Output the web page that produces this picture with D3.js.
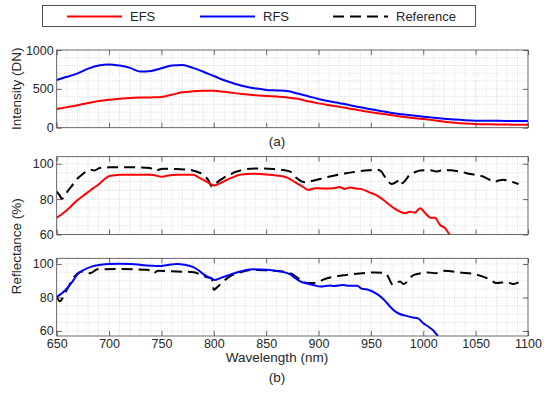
<!DOCTYPE html>
<html>
<head>
<meta charset="utf-8">
<script src="https://cdn.jsdelivr.net/npm/d3@7"></script>
<style>
  body { margin: 0; background: #fff; }
  text { font-family: "Liberation Sans", Arial, sans-serif; fill: #262626; }
</style>
</head>
<body>
<div id="chart"></div>
<script>
// ---- data ----
const xTicks = [650, 700, 750, 800, 850, 900, 950, 1000, 1050, 1100];

// (a) intensity, sampled every 10 nm
const waveA = [650, 660, 670, 680, 690, 700, 710, 720, 730, 740, 750, 760, 770, 780, 790, 800,
  810, 820, 830, 840, 850, 860, 870, 880, 890, 900, 910, 920, 930, 940, 950, 960, 970, 980,
  990, 1000, 1010, 1020, 1030, 1040, 1050, 1060, 1070, 1080, 1090, 1100];
const efsIntensity = [241, 265, 290, 318, 343, 360, 372, 383, 388, 390, 395, 425, 455, 468, 474, 476,
  462, 445, 430, 418, 408, 400, 390, 372, 340, 313, 290, 268, 245, 222, 200, 180, 160, 142,
  126, 112, 95, 78, 65, 55, 48, 44, 41, 40, 39, 39];
const rfsIntensity = [614, 655, 700, 760, 800, 815, 800, 770, 722, 730, 765, 800, 806, 770, 720, 665,
  610, 565, 530, 505, 486, 480, 472, 440, 405, 370, 340, 315, 290, 262, 238, 213, 190, 172,
  156, 142, 128, 115, 104, 96, 91, 89, 88, 87, 86, 86];

// (b) upper: EFS reflectance and reference, [wavelength, %]
const efsReflectance = [[650, 69.5], [656, 72], [662, 75], [668, 78.5], [675, 81.8], [680, 84], [685, 86.2],
  [690, 88.3], [695, 91], [700, 93], [705, 93.5], [710, 93.8], [720, 93.8], [730, 93.8], [740, 93.8],
  [745, 93.3], [750, 92.6], [755, 93.2], [765, 93.8], [780, 93.8], [785, 92.5], [790, 90.9], [795, 89.2],
  [800, 87.7], [805, 88.8], [810, 90.2], [818, 92.3], [825, 93.8], [838, 94.3], [850, 94], [860, 93.4],
  [870, 92.2], [879, 89], [885, 87], [890, 85.2], [897, 86.2], [905, 86], [914, 86.2], [920, 86.8],
  [925, 85.8], [930, 86.6], [935, 86], [940, 85.8], [948, 84], [956, 82], [962, 79.5], [968, 76.7],
  [973, 74.5], [978, 72.9], [983, 72], [987, 72.9], [992, 72.4], [997, 74.9], [1002, 72], [1007, 69.5],
  [1011, 69.5], [1016, 65.4], [1021, 63.5], [1025, 60]];
const refReflectanceE = [[650, 84.3], [653, 82], [655, 80.1], [658, 82.4], [661, 85], [664, 87.1], [668, 90.5],
  [674, 93.8], [678, 95.5], [682, 96.6], [686, 96.2], [691, 97.6], [700, 98], [710, 98.1], [725, 98],
  [739, 97.6], [744, 96], [748, 96.8], [752, 97.2], [765, 97], [777, 96.6], [784, 95.5], [790, 93.8],
  [795, 90.5], [798, 87.1], [801, 88.5], [805, 90.3], [809, 91.9], [815, 93.8], [822, 95.6], [835, 97.2],
  [845, 97.3], [857, 97], [866, 96.5], [873, 95.6], [879, 91.9], [884, 90], [887, 89.6], [893, 90.2],
  [898, 90.9], [905, 92], [911, 92.8], [925, 94.5], [937, 95.6], [948, 96.3], [956, 96.6], [960, 95.6],
  [962, 93.8], [966, 90.5], [970, 88.5], [975, 90], [978, 91.3], [980, 89], [984, 91.5], [987, 93.8],
  [992, 95.2], [997, 96.2], [1007, 96.4], [1013, 95.6], [1019, 96.6], [1027, 96.3], [1035, 95.6],
  [1045, 94.2], [1057, 92.8], [1063, 91], [1067, 89.6], [1072, 90.5], [1077, 90.9], [1082, 90],
  [1086, 89.6], [1091, 88.5]];

// (b) lower: RFS reflectance and reference
const rfsReflectance = [[650, 80.3], [655, 82.5], [660, 85.5], [665, 89.5], [670, 94], [676, 96.5], [684, 98.6],
  [692, 99.6], [700, 100], [710, 100.1], [721, 100], [731, 99.4], [740, 99], [747, 98.8], [756, 99.4],
  [765, 100], [772, 99.6], [781, 98], [786, 96], [791, 93.5], [796, 91.8], [801, 90.5], [808, 92],
  [815, 93.5], [825, 95.5], [837, 96.8], [850, 96.5], [860, 95.8], [866, 95.3], [873, 93.8], [878, 91.5],
  [883, 89.5], [890, 88.2], [895, 87.4], [902, 86.5], [911, 87.2], [915, 86.8], [923, 87.4], [930, 87],
  [937, 87], [941, 85.3], [948, 84.5], [956, 82], [962, 79], [968, 74.8], [972, 72.2], [977, 70.3],
  [982, 69.3], [990, 68], [995, 67.5], [1000, 64.6], [1005, 62.5], [1010, 60], [1014, 57]];
const refReflectanceR = [[650, 80.7], [653, 77.7], [658, 82.7], [667, 92.5], [675, 95.5], [682, 94.5],
  [689, 96.8], [710, 97], [737, 96.5], [742, 94.5], [747, 95.9], [765, 95.5], [781, 95.1], [791, 92.5],
  [798, 91.5], [800, 84.6], [804, 86.6], [815, 92.5], [828, 95.5], [838, 96.5], [850, 96.2], [866, 95.5],
  [876, 93.5], [884, 90], [890, 88.6], [896, 88.6], [906, 91], [927, 93.5], [954, 94.9], [964, 94.5],
  [966, 92.9], [971, 87.6], [978, 89.6], [981, 88], [991, 93.5], [1005, 94.9], [1012, 94.5],
  [1019, 95.9], [1035, 94.9], [1049, 93.9], [1063, 90.9], [1070, 88.6], [1080, 89.2], [1086, 88],
  [1091, 89]];

const legendNames = ["EFS", "RFS", "Reference"];

// ---- drawing ----
const width = 550, height = 394;
const svg = d3.select("#chart").append("svg")
  .attr("width", width)
  .attr("height", height);

const x = d3.scaleLinear().domain([650, 1100]).range([56.7, 528]);

const panels = [
  { top: 50, bottom: 127.7, domain: [0, 1000], ticks: [0, 500, 1000], minor: 100,
    series: [
      { data: waveA.map((w, i) => [w, efsIntensity[i]]), color: "#ff0000" },
      { data: waveA.map((w, i) => [w, rfsIntensity[i]]), color: "#0000ff" }
    ] },
  { top: 156.7, bottom: 234.5, domain: [60, 104], ticks: [60, 80, 100], minor: 5,
    series: [
      { data: refReflectanceE, color: "#000", dash: true },
      { data: efsReflectance, color: "#ff0000" }
    ] },
  { top: 258.3, bottom: 336, domain: [57, 103.4], ticks: [60, 80, 100], minor: 5, showX: true,
    series: [
      { data: refReflectanceR, color: "#000", dash: true },
      { data: rfsReflectance, color: "#0000ff" }
    ] }
];

panels.forEach((p, k) => {
  const y = d3.scaleLinear().domain(p.domain).range([p.bottom, p.top]);
  const g = svg.append("g");

  // dotted grid
  const grid = g.append("g")
    .attr("stroke", "#bdbdbd")
    .attr("stroke-width", 0.6)
    .attr("stroke-dasharray", "1,1.5");
  grid.selectAll(".gx")
    .data(d3.range(660, 1100, 10))
    .enter().append("line")
    .attr("x1", d => x(d)).attr("x2", d => x(d))
    .attr("y1", p.top).attr("y2", p.bottom);
  const yStart = Math.ceil(p.domain[0] / p.minor) * p.minor;
  grid.selectAll(".gy")
    .data(d3.range(yStart, p.domain[1], p.minor).filter(v => v > p.domain[0]))
    .enter().append("line")
    .attr("x1", x.range()[0]).attr("x2", x.range()[1])
    .attr("y1", d => y(d)).attr("y2", d => y(d));

  // series
  const clipId = "clip" + k;
  g.append("clipPath").attr("id", clipId)
    .append("rect")
    .attr("x", x.range()[0]).attr("y", p.top)
    .attr("width", x.range()[1] - x.range()[0])
    .attr("height", p.bottom - p.top);

  const line = d3.line()
    .x(d => x(d[0]))
    .y(d => y(d[1]))
    .curve(d3.curveMonotoneX);

  p.series.forEach(s => {
    g.append("path")
      .attr("clip-path", `url(#${clipId})`)
      .attr("d", line(s.data))
      .attr("fill", "none")
      .attr("stroke", s.color)
      .attr("stroke-width", 2)
      .attr("stroke-dasharray", s.dash ? "11,6" : null);
  });

  // axes, ticks pointing inward
  const axes = [
    g.append("g").attr("transform", `translate(0,${p.bottom})`)
      .call(d3.axisBottom(x).tickValues(xTicks).tickSize(-5).tickPadding(3)
        .tickFormat(p.showX ? d3.format("d") : "")),
    g.append("g").attr("transform", `translate(0,${p.top})`)
      .call(d3.axisTop(x).tickValues(xTicks).tickSize(-5).tickFormat("")),
    g.append("g").attr("transform", `translate(${x.range()[0]},0)`)
      .call(d3.axisLeft(y).tickValues(p.ticks).tickSize(-5).tickPadding(3)
        .tickFormat(d3.format("d"))),
    g.append("g").attr("transform", `translate(${x.range()[1]},0)`)
      .call(d3.axisRight(y).tickValues(p.ticks).tickSize(-5).tickFormat(""))
  ];
  axes.forEach(a => {
    a.select(".domain").remove();
    a.selectAll(".tick line").attr("stroke", "#444").attr("stroke-width", 0.8);
    a.selectAll("text").style("font-size", "12.5px").attr("fill", "#262626");
  });

  g.append("rect")
    .attr("x", x.range()[0]).attr("y", p.top)
    .attr("width", x.range()[1] - x.range()[0])
    .attr("height", p.bottom - p.top)
    .attr("fill", "none")
    .attr("stroke", "#444")
    .attr("stroke-width", 0.8);
});

// axis titles and captions
const capX = 277;
svg.append("text")
  .attr("x", capX).attr("y", 362)
  .attr("text-anchor", "middle")
  .style("font-size", "13.5px")
  .text("Wavelength (nm)");
svg.append("text")
  .attr("x", capX).attr("y", 382)
  .attr("text-anchor", "middle")
  .style("font-size", "13.5px")
  .text("(b)");
svg.append("text")
  .attr("x", capX).attr("y", 146)
  .attr("text-anchor", "middle")
  .style("font-size", "13.5px")
  .text("(a)");
svg.append("text")
  .attr("transform", `translate(20.5,${(50 + 127.7) / 2}) rotate(-90)`)
  .attr("text-anchor", "middle")
  .style("font-size", "13.5px")
  .text("Intensity (DN)");
svg.append("text")
  .attr("transform", `translate(20.5,${(156.7 + 336) / 2}) rotate(-90)`)
  .attr("text-anchor", "middle")
  .style("font-size", "13.5px")
  .text("Reflectance (%)");

// legend
const legend = svg.append("g");
legend.append("rect")
  .attr("x", 42.5).attr("y", 5.5)
  .attr("width", 433).attr("height", 21)
  .attr("fill", "#fff")
  .attr("stroke", "#262626")
  .attr("stroke-width", 0.8);
const legendColors = ["#ff0000", "#0000ff", "#000"];
legendNames.forEach((name, i) => {
  const lx = 67 + i * 133;
  legend.append("line")
    .attr("x1", lx).attr("x2", lx + 55)
    .attr("y1", 16.5).attr("y2", 16.5)
    .attr("stroke", legendColors[i])
    .attr("stroke-width", 2)
    .attr("stroke-dasharray", i === 2 ? "11,6" : null);
  legend.append("text")
    .attr("x", lx + 63).attr("y", 16.5)
    .attr("dy", "0.35em")
    .style("font-size", "13px")
    .text(name);
});
</script>
</body>
</html>
